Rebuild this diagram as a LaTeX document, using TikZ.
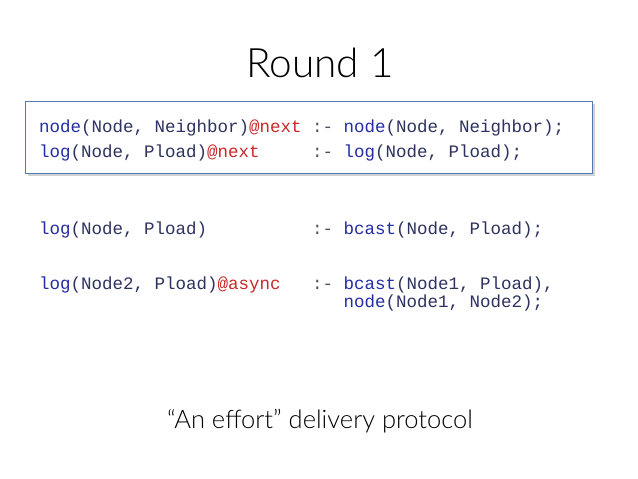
\documentclass[tikz,border=0pt]{standalone}
\usepackage{fontspec}
\setmainfont{Lato}
\newfontfamily\titlefont{Lato Light}
\setmonofont{Liberation Mono}
\usetikzlibrary{shadows}
\definecolor{pred}{RGB}{35,45,165}
\definecolor{argc}{RGB}{45,50,95}
\definecolor{annot}{RGB}{200,40,40}
\definecolor{neck}{RGB}{80,80,95}
\definecolor{boxc}{RGB}{85,120,180}
\newcommand{\PrdC}[1]{\textcolor{pred}{#1}}
\newcommand{\AnnC}[1]{\textcolor{annot}{#1}}
\newcommand{\NeckC}{\textcolor{neck}{:-}}
\begin{document}
\begin{tikzpicture}[x=1pt,y=-1pt,
  code/.style={anchor=base west,inner sep=0pt,font=\ttfamily\fontsize{17.5}{20}\selectfont,text=argc},
  rulebox/.style={draw=boxc,line width=1.3pt,fill=white,drop shadow={shadow xshift=2pt,shadow yshift=-2.5pt,opacity=0.35}}]
\useasboundingbox (0,0) rectangle (638,479);
\fill[white] (0,0) rectangle (638,479);
\node[anchor=base,inner sep=0pt,font=\titlefont\fontsize{40.5}{44}\selectfont] (title) at (320,77) {Round 1};
\node[rulebox,minimum width=567pt,minimum height=72pt,anchor=north west,inner sep=0pt] (box) at (25,101) {};
\node[code] (l1) at (39,132.5) {\PrdC{node}(Node, Neighbor)\AnnC{@next}};
\node[code] (r1) at (312,132.5) {\NeckC{} \PrdC{node}(Node, Neighbor);};
\node[code] (l2) at (39,157.5) {\PrdC{log}(Node, Pload)\AnnC{@next}};
\node[code] (r2) at (312,157.5) {\NeckC{} \PrdC{log}(Node, Pload);};
\node[code] (l3) at (39,234) {\PrdC{log}(Node, Pload)};
\node[code] (r3) at (312,234) {\NeckC{} \PrdC{bcast}(Node, Pload);};
\node[code] (l4) at (39,289) {\PrdC{log}(Node2, Pload)\AnnC{@async}};
\node[code] (r4) at (312,289) {\NeckC{} \PrdC{bcast}(Node1, Pload),};
\node[code] (r5) at (312,307) {\phantom{:- }\PrdC{node}(Node1, Node2);};
\node[anchor=base,inner sep=0pt,font=\titlefont\fontsize{25.5}{28}\selectfont] (sub) at (320,428) {“An effort” delivery protocol};
\end{tikzpicture}
\end{document}
